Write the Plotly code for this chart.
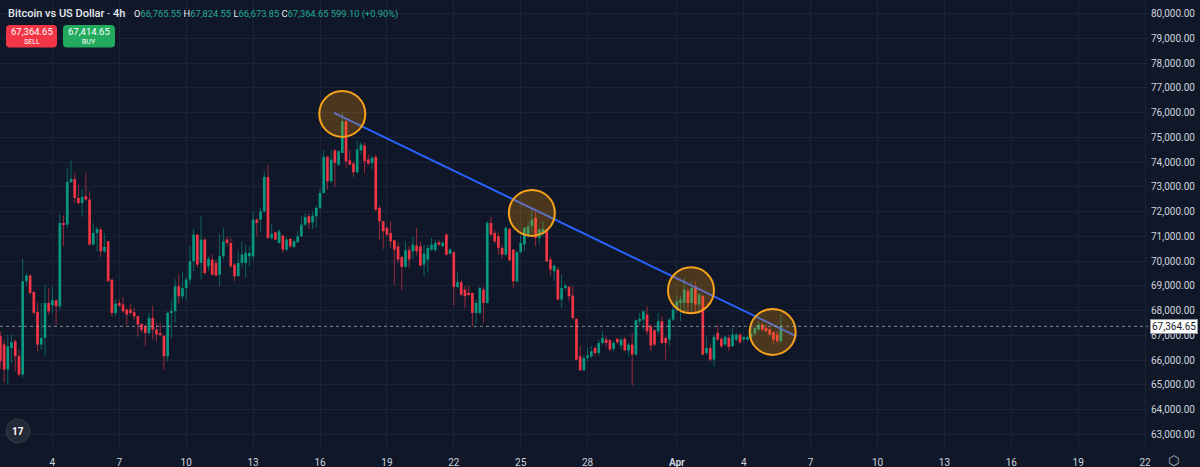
import plotly.graph_objects as go
import pandas as pd

# ---------------- data (4h candles, BTCUSD) ----------------
START = "2024-03-01 16:00"
BAR_HOURS = 4

opens = [66964, 66627, 65618, 66493, 66762, 66156, 65416, 69185, 69414, 68754,
         67947, 66627, 66897, 68310, 68216, 68418, 68175, 71514, 71474, 73184,
         73318, 72551, 72349, 72618, 72484, 70666, 71137, 71272, 70397, 70801,
         69253, 67906, 68310, 68243, 68041, 68041, 67933, 67772, 67462, 67368,
         67098, 67704, 67233, 67072, 66991, 66156, 67906, 67974, 68983, 68579,
         68903, 69253, 69993, 71070,
         69925, 70868, 69790, 70060, 69925, 69454, 70194, 70868, 70733, 69858,
         69387, 69925, 69925, 70194, 70194, 71675, 71675, 72012, 73399, 70935,
         71164, 70733, 71029, 70464, 70894, 70571, 70760, 71002, 71473, 71810,
         71568, 71810, 72147, 72752, 74206, 73224, 74476, 73897, 74368, 75647,
         74072, 73937, 73587, 74476, 74664, 74099, 73964, 74206, 72147, 71608,
         71339, 71137, 70841, 70598,
         70168, 69764, 70437, 70396, 70625, 70598, 69858, 70060, 70464, 70437,
         70760, 70598, 71070, 70302, 70356, 68956, 69144, 68848, 68714, 68714,
         67906, 67906, 68848, 68310, 71541, 71137, 71002, 70531, 70262, 71298,
         70464, 69185, 70356, 70666, 71070, 71406, 71743, 70935, 71110, 71272,
         70060, 69589, 69656, 68444, 68916, 68956, 68606, 67663, 66156, 65590,
         66088, 66156, 66492, 66290,
         66694, 66829, 66802, 66452, 66856, 66587, 66856, 66398, 66627, 66223,
         67569, 67637, 67839, 67367, 67206, 67165, 67569, 66896, 66829, 67637,
         68041, 68310, 68310, 68781, 68310, 68983, 68242, 68579, 66290, 66492,
         66021, 67098, 66856, 66627, 66896, 66560, 66829, 67031, 66829, 66829,
         66937, 67071, 67233, 67435, 67300, 67233, 67125, 67031, 66765.55]

highs = [67166, 66829, 67031, 67031, 66829, 66425, 70087, 69522, 69481, 68781,
         68310, 68310, 69010, 68889, 68983, 68445, 71918, 71851, 73763, 74059,
         73561, 73089, 72888, 73561, 72820, 71541, 71380, 71380, 71137, 70801,
         69253, 68472, 68445, 68539, 68108, 68243, 68108, 67772, 67502, 67435,
         67906, 68202, 67502, 67502, 66991, 67974, 68445, 69279, 69481, 69562,
         69360, 70599, 71299, 71070,
         71810, 70935, 70194, 70262, 70060, 71069, 71339, 70975, 70935, 69925,
         70396, 70800, 70666, 70598, 72012, 71743, 72147, 73627, 73897, 71473,
         71204, 71298, 71069, 70935, 70935, 70868, 71204, 71810, 71945, 71918,
         71972, 72241, 72914, 74476, 74260, 74503, 74503, 74476, 76010, 75714,
         74476, 74031, 74879, 74799, 74799, 74301, 74260, 74301, 72241, 71648,
         71406, 71608, 70868, 70733,
         70195, 70800, 70598, 70975, 71339, 70800, 70666, 70666, 70935, 70868,
         70841, 70800, 71110, 70531, 70396, 69589, 69252, 68983, 69010, 68714,
         68444, 68956, 68956, 71608, 71783, 71272, 71164, 70666, 71406, 71339,
         70464, 70437, 71070, 71379, 71608, 72079, 72012, 71339, 71608, 71298,
         70168, 69858, 69764, 69454, 69091, 69010, 69010, 67704, 66559, 66223,
         66492, 66559, 66559, 66829,
         67165, 66964, 66856, 66762, 66896, 66937, 66937, 66694, 67098, 67637,
         67906, 68014, 68175, 67435, 67233, 67906, 67771, 66964, 67704, 68175,
         68646, 68579, 69320, 68916, 69185, 69185, 68714, 68646, 66937, 66627,
         67031, 67435, 66937, 66990, 67031, 67300, 67098, 67071, 66964, 66990,
         67300, 67367, 67569, 67502, 67435, 67300, 67165, 67165, 67824.55]

lows = [65618, 65079, 65012, 65887, 65550, 65348, 65281, 68983, 68647, 67839,
        66358, 66425, 66156, 67839, 67906, 67435, 68041, 70599, 71339, 73157,
        72349, 72282, 71784, 72443, 70626, 70626, 70397, 70168, 70330, 69185,
        67772, 67772, 68149, 67906, 67435, 67839, 67637, 66937, 67098, 66560,
        67031, 66829, 66762, 66964, 65618, 65954, 66897, 67502, 68283, 68445,
        68418, 69091, 69589, 69724,
        69252, 69454, 69589, 69414, 69387, 68983, 70060, 70598, 69723, 69185,
        69387, 69723, 69319, 69790, 70060, 71002, 71204, 71945, 70894, 70868,
        70841, 70706, 70329, 70396, 70531, 70531, 70733, 70975, 71406, 71298,
        71298, 71339, 72079, 72725, 72887, 73156, 72995, 73829, 74368, 73762,
        73856, 73399, 73533, 74301, 73560, 73897, 73722, 72012, 70868, 70491,
        70975, 70531, 69050, 69925,
        68808, 69723, 69723, 70087, 70221, 69791, 69387, 69548, 70396, 70396,
        70598, 70598, 70221, 70262, 68202, 68916, 68579, 68108, 68579, 67367,
        67475, 67838, 67502, 68283, 71002, 70733, 70262, 70087, 70221, 69993,
        68889, 69117, 70329, 70396, 70935, 71110, 70598, 70666, 71002, 69952,
        69414, 69185, 68417, 68108, 68848, 68377, 67637, 65994, 65550, 65550,
        65954, 66088, 66156, 66156,
        66627, 66533, 66358, 66358, 66627, 66425, 66358, 66156, 64971, 66183,
        67435, 67233, 67031, 66358, 66560, 67031, 66627, 66021, 66587, 67569,
        67906, 67569, 67906, 67906, 67933, 67906, 67906, 66223, 66223, 65954,
        65725, 66762, 66492, 66587, 66358, 66533, 66762, 66667, 66762, 66762,
        66856, 66990, 67165, 67165, 67125, 66964, 66627, 66694, 66673.85]

closes = [65954, 65618, 66560, 66721, 66156, 65416, 69185, 69414, 68714, 67906,
          66627, 66897, 68310, 67974, 68418, 68175, 71541, 71460, 73197, 73318,
          72551, 72349, 72591, 72484, 70666, 71137, 71299, 70397, 70572, 69185,
          67906, 68283, 68202, 67974, 67839, 67906, 67772, 67435, 67233, 67098,
          67704, 67233, 67031, 67031, 66156, 67906, 67974, 68983, 68579, 68903,
          69253, 69993, 71070, 69858,
          70868, 69521, 70087, 69454, 69414, 70194, 70800, 70733, 69790, 69387,
          69925, 70262, 70329, 70329, 71675, 71541, 72012, 73399, 70935, 71096,
          70868, 71204, 70464, 70868, 70598, 70800, 71002, 71473, 71783, 71541,
          71837, 72147, 72752, 74206, 73224, 74099, 73964, 74435, 75647, 74031,
          73897, 73587, 74503, 74704, 74031, 73937, 74166, 72079, 71608, 71204,
          71069, 70800, 70464, 70060,
          69764, 70437, 70060, 70666, 70396, 69818, 70302, 70531, 70666, 70733,
          70666, 70733, 70262, 70464, 68956, 69144, 68646, 68579, 68646, 67906,
          68310, 68916, 68310, 71541, 71070, 70800, 70531, 70262, 71339, 70033,
          69185, 70356, 70733, 71339, 71406, 71675, 70935, 71272, 71298, 69993,
          69656, 69818, 68444, 68916, 69010, 68579, 67704, 66021, 65590, 66088,
          66182, 66358, 66290, 66694,
          66896, 66694, 66425, 66694, 66721, 66829, 66398, 66627, 66223, 67610,
          67664, 67973, 67165, 66587, 66627, 67569, 66694, 66694, 67637, 68041,
          68377, 68444, 68848, 68310, 68916, 68242, 68646, 66223, 66492, 66021,
          66937, 66829, 66560, 66937, 66533, 67031, 67031, 66721, 66937, 66937,
          67071, 67300, 67435, 67233, 67165, 67031, 66829, 66762, 67364.65]

# trend line and highlighted touches
trend_x = ["2024-03-16 15:04", "2024-04-06 09:03"]
trend_y = [75985, 66962]
circle_x = ["2024-03-17 00:00", "2024-03-25 12:00", "2024-04-01 15:15", "2024-04-05 07:10"]
circle_y = [75945, 71946, 68820, 67140]

# axis ticks
x_tickvals = ["2024-03-04", "2024-03-07", "2024-03-10", "2024-03-13", "2024-03-16",
              "2024-03-19", "2024-03-22", "2024-03-25", "2024-03-28", "2024-04-01",
              "2024-04-04", "2024-04-07", "2024-04-10", "2024-04-13", "2024-04-16",
              "2024-04-19", "2024-04-22"]
x_ticktext = ["4", "7", "10", "13", "16", "19", "22", "25", "28", "<b>Apr</b>",
              "4", "7", "10", "13", "16", "19", "22"]
y_tickvals = list(range(63000, 80001, 1000))

sell_price = "67,364.65"
buy_price = "67,414.65"

# ---------------- styling ----------------
BG = "#0f1729"
GRID = "#1b2437"
UP = "#089981"
DOWN = "#f23645"
UP_WICK = "rgba(8,153,129,0.6)"
DOWN_WICK = "rgba(242,54,69,0.6)"
TXT = "#d1d4dc"
FONT = "Roboto"

W, H = 1200, 467
ML, MR, MT, MB = 0, 52, 0, 16
PW, PH = W - ML - MR, H - MT - MB


def px(x):
    return (x - ML) / PW


def py(y):
    return 1 - (y - MT) / PH


times = pd.date_range(START, periods=len(opens), freq=f"{BAR_HOURS}h")
bar_ms = BAR_HOURS * 3600 * 1000

fig = go.Figure()

# wicks
for is_up, col in ((True, UP_WICK), (False, DOWN_WICK)):
    wx, wy = [], []
    for t, o, h, l, c in zip(times, opens, highs, lows, closes):
        if (c >= o) == is_up:
            wx += [t, t, None]
            wy += [l, h, None]
    fig.add_trace(go.Scatter(x=wx, y=wy, mode="lines", line=dict(color=col, width=1),
                             hoverinfo="skip", showlegend=False))

# bodies
base = [min(o, c) for o, c in zip(opens, closes)]
height = [max(abs(c - o), 30) for o, c in zip(opens, closes)]
colors = [UP if c >= o else DOWN for o, c in zip(opens, closes)]
fig.add_trace(go.Bar(x=times, y=height, base=base, width=bar_ms * 0.72,
                     marker=dict(color=colors, line=dict(width=0)),
                     hoverinfo="skip", showlegend=False))

# trend line
fig.add_trace(go.Scatter(x=trend_x, y=trend_y, mode="lines",
                         line=dict(color="#2962ff", width=2),
                         hoverinfo="skip", showlegend=False))
# circles
fig.add_trace(go.Scatter(x=circle_x, y=circle_y, mode="markers",
                         marker=dict(size=46, color="rgba(255,152,0,0.25)",
                                     line=dict(color="#f7a21b", width=2)),
                         hoverinfo="skip", showlegend=False))

last = closes[-1]
shapes = [
    dict(type="line", xref="paper", x0=0, x1=1, yref="y", y0=last, y1=last,
         line=dict(color="rgba(170,175,185,0.75)", width=1, dash="dot")),
]


def rrect(x0, y0, x1, y1, r, color):
    pts = [
        ("M", x0 + r, y0), ("L", x1 - r, y0), ("Q", x1, y0, x1, y0 + r),
        ("L", x1, y1 - r), ("Q", x1, y1, x1 - r, y1), ("L", x0 + r, y1),
        ("Q", x0, y1, x0, y1 - r), ("L", x0, y0 + r), ("Q", x0, y0, x0 + r, y0),
    ]
    s = ""
    for p in pts:
        cmd = p[0]
        coords = p[1:]
        seg = []
        for i in range(0, len(coords), 2):
            seg.append(f"{px(coords[i]):.5f},{py(coords[i+1]):.5f}")
        s += cmd + " " + " ".join(seg) + " "
    return dict(type="path", xref="paper", yref="paper", path=s + "Z",
                fillcolor=color, line=dict(width=0), layer="above")


shapes.append(rrect(6, 25, 57, 47.5, 4, "#f23645"))
shapes.append(rrect(63, 25, 115, 47.5, 4, "#22ab5f"))
# TradingView logo circle
shapes.append(dict(type="circle", xref="paper", yref="paper",
                   x0=px(6), x1=px(30), y0=py(443), y1=py(419),
                   fillcolor="#242a36", line=dict(color="#323846", width=1)))

G = "#22ab94"
ohlc = (f"O<span style='color:{G}'>66,765.55</span> "
        f"H<span style='color:{G}'>67,824.55</span> "
        f"L<span style='color:{G}'>66,673.85</span> "
        f"C<span style='color:{G}'>67,364.65</span> "
        f"<span style='color:{G}'>599.10 (+0.90%)</span>")

annotations = [
    dict(xref="paper", yref="paper", x=px(6), y=py(14), xanchor="left", yanchor="middle",
         text="Bitcoin vs US Dollar · 4h", showarrow=False,
         font=dict(family=FONT, size=11, color="#e8eaf0", weight=500)),
    dict(xref="paper", yref="paper", x=px(132), y=py(14.5), xanchor="left", yanchor="middle",
         text=ohlc, showarrow=False, font=dict(family=FONT, size=9.3, color="#e8eaf0")),
    dict(xref="paper", yref="paper", x=px(31.5), y=py(31.5), xanchor="center", yanchor="middle",
         text=sell_price, showarrow=False, font=dict(family=FONT, size=9.5, color="white")),
    dict(xref="paper", yref="paper", x=px(31.5), y=py(42), xanchor="center", yanchor="middle",
         text="SELL", showarrow=False, font=dict(family=FONT, size=7, color="white")),
    dict(xref="paper", yref="paper", x=px(89), y=py(31.5), xanchor="center", yanchor="middle",
         text=buy_price, showarrow=False, font=dict(family=FONT, size=9.5, color="white")),
    dict(xref="paper", yref="paper", x=px(89), y=py(42), xanchor="center", yanchor="middle",
         text="BUY", showarrow=False, font=dict(family=FONT, size=7, color="white")),
    dict(xref="paper", yref="y", x=1, y=last, xanchor="left", yanchor="middle",
         xshift=2, text=f"{last:,.2f}", showarrow=False, bgcolor="#ffffff",
         bordercolor="#9598a1", borderwidth=1, borderpad=1,
         font=dict(family=FONT, size=10, color="#131722")),
    dict(xref="paper", yref="paper", x=px(18), y=py(431), xanchor="center", yanchor="middle",
         text="<b>17</b>", showarrow=False, font=dict(family=FONT, size=10, color="white")),
    dict(xref="paper", yref="paper", x=px(1173), y=py(460), xanchor="center", yanchor="middle",
         text="⬡", showarrow=False, font=dict(family="DejaVu Sans", size=13, color="#b2b5be")),
]

fig.update_layout(
    width=W, height=H,
    margin=dict(l=ML, r=MR, t=MT, b=MB),
    paper_bgcolor=BG, plot_bgcolor=BG,
    showlegend=False, hovermode=False, barmode="overlay",
    shapes=shapes, annotations=annotations,
    font=dict(family=FONT, color=TXT),
    xaxis=dict(type="date", range=["2024-03-01 15:36", "2024-04-22 03:07"],
               tickvals=x_tickvals, ticktext=x_ticktext, showgrid=True,
               gridcolor=GRID, gridwidth=1, zeroline=False, showline=False,
               ticks="", ticklabelstandoff=4, tickfont=dict(family=FONT, size=10, color=TXT),
               automargin=False, fixedrange=True),
    yaxis=dict(side="right", range=[62329, 80545], tickvals=y_tickvals,
               tickformat=",.2f", showgrid=True, gridcolor=GRID, gridwidth=1,
               zeroline=False, showline=False, ticks="", ticklabelstandoff=2,
               tickfont=dict(family=FONT, size=10, color=TXT),
               automargin=False, fixedrange=True),
)

fig.write_html("out.html")
